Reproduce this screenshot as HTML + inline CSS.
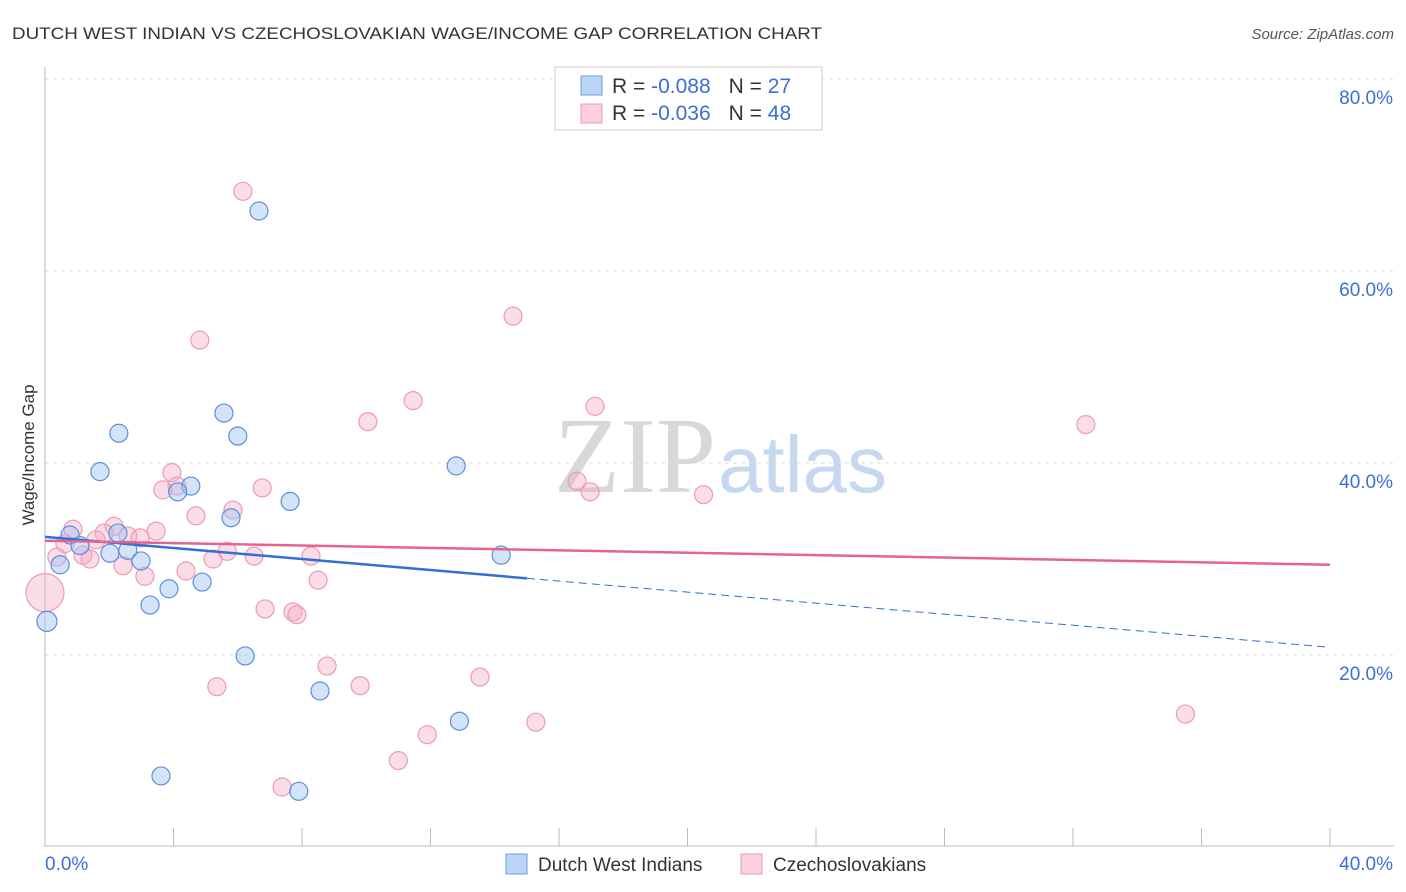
<!DOCTYPE html>
<html><head><meta charset="utf-8"><style>
body{margin:0;background:#fff;font-family:"Liberation Sans",sans-serif;}
svg{display:block}
</style></head><body>
<svg id="c" width="1406" height="892">
<text x="12" y="39" font-size="17" fill="#333" textLength="810" lengthAdjust="spacingAndGlyphs">DUTCH WEST INDIAN VS CZECHOSLOVAKIAN WAGE/INCOME GAP CORRELATION CHART</text>
<text x="1394" y="39" font-size="15" fill="#555" font-style="italic" text-anchor="end">Source: ZipAtlas.com</text>
<text x="716" y="492" font-size="108" fill="#d8d8d8" font-family="Liberation Serif,serif" text-anchor="end">ZIP</text>
<text x="718" y="492" font-size="80" fill="#c5d8ef">atlas</text>
<g id="grid"></g>
<g id="axes"></g>
<g id="pts"></g>
<g id="trend"></g>
<text x="34" y="455" font-size="17" fill="#333" text-anchor="middle" transform="rotate(-90 34 455)">Wage/Income Gap</text>
<g>
<rect x="555" y="67" width="267" height="63" fill="#fff" stroke="#ccc"/>
<rect x="581" y="76" width="21" height="19" fill="#bcd4f5" stroke="#6d9de0"/>
<rect x="581" y="104" width="21" height="19" fill="#fcd0dd" stroke="#ee9ab5"/>
<text x="612" y="93" font-size="21" fill="#333">R = <tspan fill="#3a6fd6">-0.088</tspan><tspan dx="18">N = </tspan><tspan fill="#3a6fd6">27</tspan></text>
<text x="612" y="120" font-size="21" fill="#333">R = <tspan fill="#3a6fd6">-0.036</tspan><tspan dx="18">N = </tspan><tspan fill="#3a6fd6">48</tspan></text>
</g>
<g>
<rect x="506" y="854" width="21" height="20" fill="#bcd4f5" stroke="#6d9de0"/>
<text x="538" y="871" font-size="19" fill="#333">Dutch West Indians</text>
<rect x="741" y="854" width="21" height="20" fill="#fcd0dd" stroke="#ee9ab5"/>
<text x="773" y="871" font-size="19" fill="#333">Czechoslovakians</text>
</g>
</svg>
<script>
const xTicks=[0,40];
const yTicks=[20,40,60,80];
const blueX=[6.66,5.57,2.30,6.0,1.71,12.8,4.54,4.13,7.63,5.79,0.78,1.09,2.27,2.02,2.58,2.99,0.47,14.2,4.89,3.86,3.27,0.06,6.23,8.56,12.9,3.61,7.9];
const blueY=[66.25,45.2,43.1,42.8,39.1,39.7,37.6,37.0,36.0,34.3,32.5,31.4,32.7,30.6,30.9,29.8,29.4,30.4,27.6,26.9,25.2,23.5,19.9,16.25,13.1,7.4,5.8];
const pinkX=[6.16,14.57,4.82,11.46,17.12,10.05,32.4,3.95,4.11,3.67,6.76,16.56,16.97,20.5,4.70,5.85,2.15,0.87,3.46,1.84,2.58,2.96,0.62,0.37,1.18,1.40,5.67,6.51,8.28,5.23,2.43,3.11,4.39,8.5,0,6.85,7.72,7.84,8.78,13.54,5.35,9.81,15.28,35.5,11.9,11.0,7.38,1.59];
const pinkY=[68.3,55.3,52.8,46.5,45.9,44.3,44.0,39.0,37.6,37.2,37.4,38.1,37.0,36.7,34.5,35.1,33.4,33.1,32.9,32.7,32.4,32.2,31.6,30.2,30.4,30.0,30.8,30.3,30.3,30.0,29.3,28.2,28.75,27.8,26.5,24.8,24.5,24.2,18.85,17.7,16.7,16.8,13.0,13.85,11.7,9.0,6.25,32.0];
const pinkR=[9,9,9,9,9,9,9,9,9,9,9,9,9,9,9,9,9,9,9,9,9,9,9,9,9,9,9,9,9,9,9,9,9,9,19,9,9,9,9,9,9,9,9,9,9,9,9,9];
const blueTrend=[32.3,20.8]; const blueSolidEnd=15;
const pinkTrend=[31.9,29.4];
const NS='http://www.w3.org/2000/svg';
const X=v=>45+v*32.125, Y=v=>847-v*9.6;
function mk(t,a,p){const e=document.createElementNS(NS,t);for(const k in a)e.setAttribute(k,a[k]);document.getElementById(p).appendChild(e);return e;}
yTicks.forEach(t=>{
 const l=mk('line',{x1:45,x2:1394,y1:Y(t),y2:Y(t),stroke:'#ddd','stroke-dasharray':'4,4'},'grid');
 
 
 const tx=mk('text',{x:1393,y:Y(t)+25,'font-size':19,fill:'#3a6fd6','text-anchor':'end'},'grid');tx.textContent=t.toFixed(1)+'%';
 
 
});
mk('line',{x1:45,x2:45,y1:67,y2:847,stroke:'#bbb'},'axes');
mk('line',{x1:45,x2:1394,y1:846,y2:846,stroke:'#bbb'},'axes');
for(let i=0;i<=10;i++){const x=X(i*4);const t=mk('line',{x1:x,x2:x,y1:828,y2:846,stroke:'#bbb'},'axes');}
xTicks.forEach((t,i)=>{const tx=mk('text',{x:i?1393:45,y:870,'font-size':19,fill:'#3a6fd6','text-anchor':i?'end':'start'},'axes');tx.textContent=t.toFixed(1)+'%';
 
 });
pinkX.forEach((x,i)=>{const c=mk('circle',{cx:X(x),cy:Y(pinkY[i]),r:pinkR[i],fill:'rgba(246,170,195,0.4)',stroke:'#ee9ab5','stroke-width':1.2},'pts');
 
 });
blueX.forEach((x,i)=>{const r=i==21?10:9;const c=mk('circle',{cx:X(x),cy:Y(blueY[i]),r:r,fill:'rgba(160,195,240,0.45)',stroke:'#5b8fdc','stroke-width':1.2},'pts');
 
 });
const bt=v=>blueTrend[0]+(blueTrend[1]-blueTrend[0])*v/40;
let l=mk('line',{x1:X(0),y1:Y(bt(0)),x2:X(blueSolidEnd),y2:Y(bt(blueSolidEnd)),stroke:'#2f6fd6','stroke-width':2.5},'trend');


l=mk('line',{x1:X(blueSolidEnd),y1:Y(bt(blueSolidEnd)),x2:X(40),y2:Y(bt(40)),stroke:'#2f6fd6','stroke-width':1,'stroke-dasharray':'8,5'},'trend');


l=mk('line',{x1:X(0),y1:Y(pinkTrend[0]),x2:X(40),y2:Y(pinkTrend[1]),stroke:'#e5648f','stroke-width':2.5},'trend');


</script>
</body></html>
